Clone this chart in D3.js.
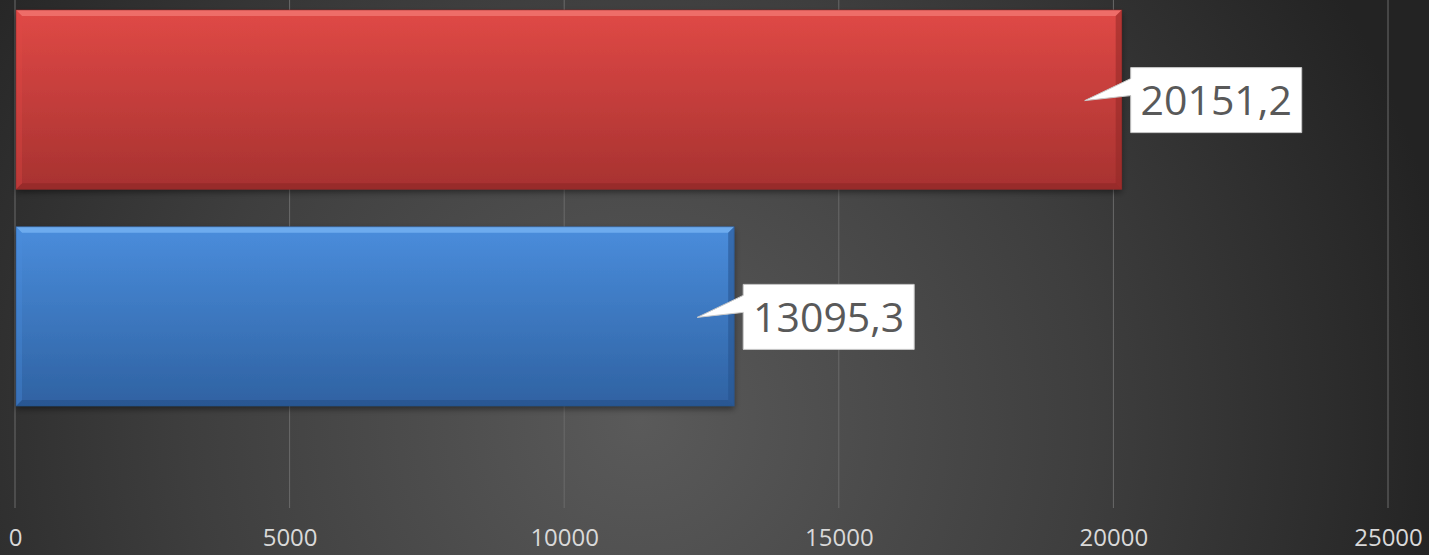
<!DOCTYPE html>
<html>
<head>
<meta charset="utf-8">
<script src="https://cdn.jsdelivr.net/npm/d3@7"></script>
<style>
  html, body { margin: 0; padding: 0; background: #333; overflow: hidden; }
  svg { display: block; }
</style>
</head>
<body>
<div id="chart"></div>
<script>
// data (bottom category first, like the original spreadsheet chart)
const categories = ["Série 2", "Série 1"];
const values = [13095.3, 20151.2];
const valueLabels = ["13095,3", "20151,2"];
const xTicks = [0, 5000, 10000, 15000, 20000, 25000];

const palette = {
    "Série 1": {top: "#e04946", bottom: "#a73230", light: "#f37a74", dark: "#922827"},
    "Série 2": {top: "#4a8ddc", bottom: "#2f62a2", light: "#7ab5f4", dark: "#26528c"}
};

let width = 1429, height = 555;
let x0 = 15, x1 = 1388, plotBottom = 508;

let svg = d3.select("#chart")
            .append("svg")
                .attr("width", width)
                .attr("height", height);

let defs = svg.append("defs");

let bg = defs.append("radialGradient")
    .attr("id", "bg")
    .attr("gradientUnits", "userSpaceOnUse")
    .attr("cx", 640).attr("cy", 420).attr("r", 820);
bg.append("stop").attr("offset", "0%").attr("stop-color", "#5a5a5a");
bg.append("stop").attr("offset", "55%").attr("stop-color", "#3e3e3e");
bg.append("stop").attr("offset", "100%").attr("stop-color", "#232323");

let shadow = defs.append("filter").attr("id", "shadow")
    .attr("x", "-5%").attr("y", "-10%").attr("width", "110%").attr("height", "130%");
shadow.append("feDropShadow")
    .attr("dx", 0).attr("dy", 3).attr("stdDeviation", 3)
    .attr("flood-color", "#000").attr("flood-opacity", 0.45);

categories.forEach((c, i) => {
    let g = defs.append("linearGradient").attr("id", "grad" + i)
        .attr("x1", 0).attr("y1", 0).attr("x2", 0).attr("y2", 1);
    g.append("stop").attr("offset", "0%").attr("stop-color", palette[c].top);
    g.append("stop").attr("offset", "100%").attr("stop-color", palette[c].bottom);
});

svg.append("rect")
    .attr("width", width).attr("height", height)
    .attr("fill", "url(#bg)");

let x = d3.scaleLinear()
            .domain([0, 25000])
            .range([x0, x1]);

let y = d3.scaleBand()
            .domain(categories.slice().reverse())
            .range([0, 416])
            .paddingInner(0.173)
            .paddingOuter(0.046);

// grid lines
svg.append("g")
    .selectAll("line")
    .data(xTicks)
    .join("line")
        .attr("x1", d => x(d)).attr("x2", d => x(d))
        .attr("y1", 0).attr("y2", plotBottom)
        .attr("stroke", "#6a6a6a")
        .attr("stroke-width", 1);

// x axis labels
svg.append("g")
    .attr("transform", "translate(0," + plotBottom + ")")
    .call(d3.axisBottom(x).tickValues(xTicks).tickSize(0).tickPadding(21).tickFormat(d3.format("d")))
    .call(g => g.select(".domain").remove())
    .selectAll("text")
        .attr("fill", "#d9d9d9")
        .style("font-family", "'Open Sans', sans-serif")
        .style("font-size", "24px");

// bars with bevel
let bev = 6;
let bars = svg.append("g")
    .selectAll("g.bar")
    .data(categories.map((c, i) => ({cat: c, val: values[i], label: valueLabels[i], idx: i})))
    .join("g")
        .attr("class", "bar");

bars.append("rect")
    .attr("x", x(0) + 1)
    .attr("y", d => y(d.cat))
    .attr("width", d => x(d.val) - x(0) - 1)
    .attr("height", y.bandwidth())
    .attr("fill", d => "url(#grad" + d.idx + ")")
    .attr("filter", "url(#shadow)");

function bevelPoly(d, side) {
    let l = x(0) + 1, r = x(d.val), t = y(d.cat), b = t + y.bandwidth();
    if (side == "top") return [[l, t], [r, t], [r - bev, t + bev], [l + bev, t + bev]];
    if (side == "bottom") return [[l, b], [r, b], [r - bev, b - bev], [l + bev, b - bev]];
    if (side == "left") return [[l, t], [l + bev, t + bev], [l + bev, b - bev], [l, b]];
    return [[r, t], [r - bev, t + bev], [r - bev, b - bev], [r, b]];
}

let sides = [
    {side: "top", color: c => palette[c].light, op: 0.75},
    {side: "bottom", color: c => palette[c].dark, op: 0.7},
    {side: "left", color: c => palette[c].top, op: 0.35},
    {side: "right", color: c => palette[c].dark, op: 0.55}
];
sides.forEach(s => {
    bars.append("polygon")
        .attr("points", d => bevelPoly(d, s.side).join(" "))
        .attr("fill", d => s.color(d.cat))
        .attr("opacity", s.op);
});
bars.append("rect")
    .attr("x", x(0) + 1)
    .attr("y", d => y(d.cat))
    .attr("width", d => x(d.val) - x(0) - 1)
    .attr("height", y.bandwidth())
    .attr("fill", "none")
    .attr("stroke", d => palette[d.cat].dark)
    .attr("stroke-opacity", 0.5)
    .attr("stroke-width", 1);

// callout labels
let boxW = 171, boxH = 65;
bars.append("path")
    .attr("d", d => {
        let bx = x(d.val) + 9, cy = y(d.cat) + y.bandwidth() / 2;
        let by = cy - boxH / 2 + 0.5;
        let tipX = x(d.val) - 37, tipY = cy + 1;
        return "M" + bx + "," + by + "H" + (bx + boxW) + "V" + (by + boxH) + "H" + bx +
            "V" + (cy - 4) + "L" + tipX + "," + tipY + "L" + bx + "," + (cy - 21) + "Z";
    })
    .attr("fill", "#ffffff")
    .attr("stroke", "#c8c8c8")
    .attr("stroke-width", 1);

bars.append("text")
    .attr("x", d => x(d.val) + 9 + boxW / 2)
    .attr("y", d => y(d.cat) + y.bandwidth() / 2 + 1)
    .attr("dy", "0.36em")
    .attr("text-anchor", "middle")
    .attr("fill", "#595959")
    .style("font-family", "'Open Sans', sans-serif")
    .style("font-size", "41px")
    .style("font-weight", 500)
    .text(d => d.label);
</script>
</body>
</html>
